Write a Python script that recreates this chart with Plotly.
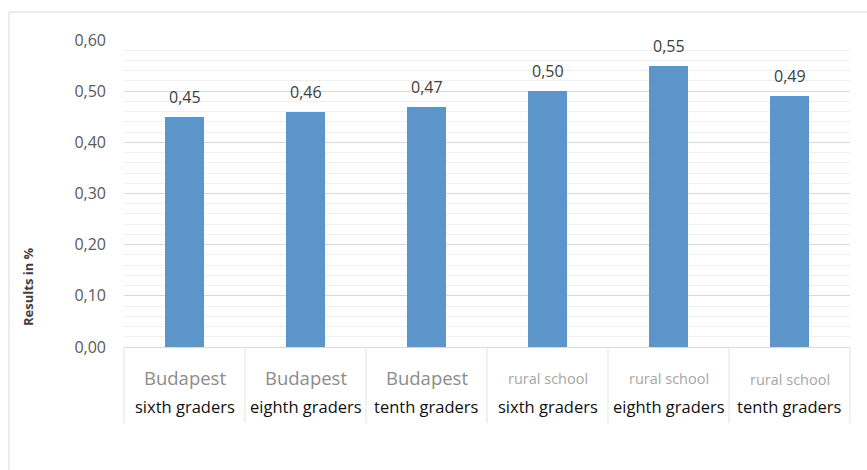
import plotly.graph_objects as go

# Data
groups = ["Budapest", "Budapest", "Budapest", "rural school", "rural school", "rural school"]
grades = ["sixth graders", "eighth graders", "tenth graders",
          "sixth graders", "eighth graders", "tenth graders"]
results = [0.45, 0.46, 0.47, 0.50, 0.55, 0.49]
y_ticks = [0.0, 0.1, 0.2, 0.3, 0.4, 0.5, 0.6]
y_tick_text = ["0,00", "0,10", "0,20", "0,30", "0,40", "0,50", "0,60"]

W, H = 867, 470
ML, MR, MT, MB = 124, 17, 40, 123
PW, PH = W - ML - MR, H - MT - MB

FONT = "Open Sans"
positions = list(range(len(results)))
labels = [f"{v:.2f}".replace(".", ",") for v in results]

fig = go.Figure()
fig.add_trace(go.Bar(
    x=positions,
    y=results,
    width=0.33,
    marker=dict(color="#5b95c9", line=dict(color="#5b95c9", width=0)),
    hoverinfo="skip",
))

annotations = []
# value labels above the bars
for i, (v, t) in enumerate(zip(results, labels)):
    annotations.append(dict(
        x=i, y=v, xref="x", yref="y", text=t, showarrow=False,
        xanchor="center", yanchor="middle", yshift=20,
        font=dict(family=FONT, size=16, color="#404040"),
    ))

# two-line category labels
for i, (g, gr) in enumerate(zip(groups, grades)):
    rural = g.startswith("rural")
    annotations.append(dict(
        x=i, y=0, xref="x", yref="paper",
        text=g, showarrow=False, yanchor="middle", xanchor="center",
        yshift=-32 if (rural and i == 5) else (-31 if rural else -30),
        font=dict(family=FONT, size=14.5 if rural else 18.5,
                  color="#a6a6a6" if rural else "#8c8c8c"),
    ))
    annotations.append(dict(
        x=i, y=0, xref="x", yref="paper",
        text=gr, showarrow=False, yanchor="middle", xanchor="center",
        yshift=-59,
        font=dict(family=FONT, size=16.5, color="#111111"),
    ))

# Axis title
annotations.append(dict(
    x=(28 - ML) / PW, y=(H - MB - 287) / PH, xref="paper", yref="paper",
    text="<b>Results in %</b>", textangle=-90, showarrow=False,
    xanchor="center", yanchor="middle",
    font=dict(family=FONT, size=13, color="#404040"),
))

shapes = []
# category dividers below the axis
for k in range(len(results) + 1):
    shapes.append(dict(
        type="line", xref="paper", yref="paper",
        x0=k / len(results), x1=k / len(results),
        y0=0, y1=-(423 - (H - MB)) / PH,
        line=dict(color="#e3e3e3", width=1),
    ))
# chart frame (left and top edges)
shapes.append(dict(
    type="line", xref="paper", yref="paper",
    x0=(9 - ML) / PW, x1=(9 - ML) / PW,
    y0=(H - MB - 12) / PH, y1=(H - MB - 475) / PH,
    line=dict(color="#ececec", width=2),
))
shapes.append(dict(
    type="line", xref="paper", yref="paper",
    x0=(9 - ML) / PW, x1=(W + 5 - ML) / PW,
    y0=(H - MB - 12) / PH, y1=(H - MB - 12) / PH,
    line=dict(color="#ececec", width=2),
))

fig.update_layout(
    width=W, height=H,
    margin=dict(l=ML, r=MR, t=MT, b=MB, pad=0),
    paper_bgcolor="white", plot_bgcolor="white",
    showlegend=False,
    bargap=0,
    font=dict(family=FONT),
    xaxis=dict(
        range=[-0.5, len(results) - 0.5],
        showticklabels=False, showgrid=False, zeroline=False,
        showline=False, ticks="", fixedrange=True,
    ),
    yaxis=dict(
        range=[0, 0.6],
        tickvals=y_ticks, ticktext=y_tick_text,
        tickfont=dict(family=FONT, size=16, color="#595959"),
        ticks="", ticklabelstandoff=17,
        showgrid=True, gridcolor="#d9d9d9", gridwidth=1,
        minor=dict(dtick=0.02, showgrid=True, gridcolor="#efefef", gridwidth=1),
        zeroline=True, zerolinecolor="#d9d9d9", zerolinewidth=1,
        showline=False,
    ),
    annotations=annotations,
    shapes=shapes,
)

fig.write_html("out.html")
